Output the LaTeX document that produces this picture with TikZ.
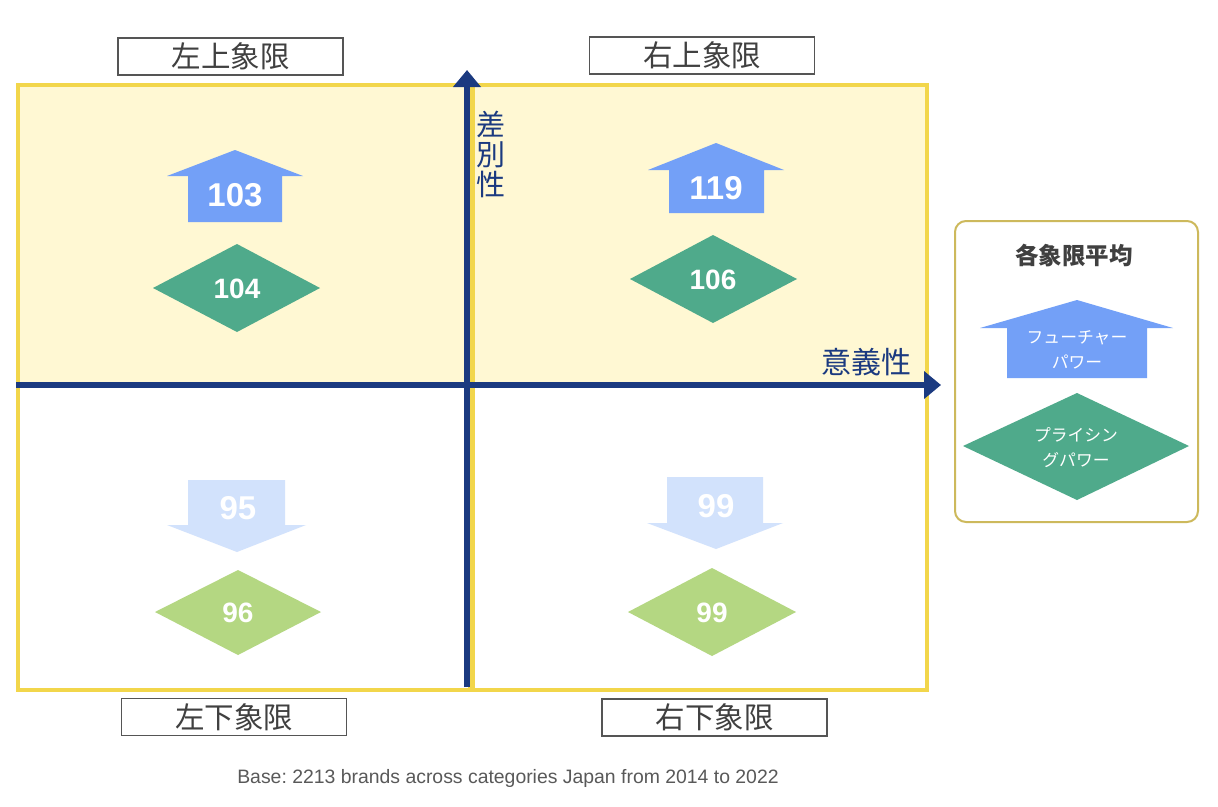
\documentclass[tikz,border=0pt]{standalone}
\usepackage{fontspec}
\setmainfont{Liberation Sans}
\newfontfamily\jp{Noto Sans CJK JP}
\usetikzlibrary{arrows.meta}
\frenchspacing
\definecolor{quadY}{HTML}{F2D64B}
\definecolor{quadFill}{HTML}{FFF8D3}
\definecolor{axisB}{HTML}{1B3A80}
\definecolor{upB}{HTML}{73A0F7}
\definecolor{dmG}{HTML}{4FAA8B}
\definecolor{lB}{HTML}{D2E2FC}
\definecolor{lG}{HTML}{B4D782}
\definecolor{legB}{HTML}{CDB95C}
\definecolor{lblTxt}{HTML}{404040}
\definecolor{lblLine}{HTML}{555555}
\definecolor{footTxt}{HTML}{595959}
\tikzset{
  quad/.style={draw=quadY, line width=4pt},
  axisline/.style={draw=axisB, line width=6pt, -{Triangle[width=27pt,length=17pt]}},
  lblbox/.style={draw=lblLine, line width=1.8pt, fill=white, minimum width=225pt, minimum height=37pt, inner sep=0pt, text=lblTxt, font=\jp\fontsize{29.5}{30}\selectfont},
  axislbl/.style={text=axisB, inner sep=0pt, font=\jp\fontsize{30}{30}\selectfont},
  bignum/.style={text=white, inner sep=0pt, font=\bfseries\fontsize{33}{36}\selectfont},
  dmnum/.style={text=white, inner sep=0pt, font=\bfseries\fontsize{28}{30}\selectfont},
  legtxt/.style={text=white, inner sep=0pt, align=center, font=\jp\fontsize{16.8}{25}\selectfont},
}
\begin{document}
\begin{tikzpicture}[x=1pt,y=-1pt]
\useasboundingbox (0,0) rectangle (1218,806);
\fill[white] (0,0) rectangle (1218,806);
% quadrants
\filldraw[quad, fill=quadFill] (18,85) rectangle (470,385);
\filldraw[quad, fill=quadFill] (473,85) rectangle (927,385);
\draw[quad] (18,385) rectangle (470,690);
\draw[quad] (473,385) rectangle (927,690);
% axes
\coordinate (vstart) at (467,687);
\coordinate (vend) at (467,70);
\coordinate (hstart) at (16,385);
\coordinate (hend) at (941,385);
\draw[axisline] (vstart) -- (vend);
\draw[axisline] (hstart) -- (hend);
\node[axislbl, align=center, font=\jp\fontsize{29}{30}\selectfont] (ylbl) at (491,154) {差\\別\\性};
\node[axislbl] (xlbl) at (866,362) {意義性};
% quadrant labels
\node[lblbox] (tl) at (230.5,56.5) {左上象限};
\node[lblbox] (tr) at (702,55.5) {右上象限};
\node[lblbox] (bl) at (234,717) {左下象限};
\node[lblbox] (br) at (714.5,717.5) {右下象限};
% TL
\fill[upB] (235,150) -- (303,176) -- (282,176) -- (282,222) -- (188,222) -- (188,176) -- (167,176) -- cycle;
\node[bignum] (n103) at (235,195.5) {103};
\fill[dmG] (237,244) -- (320,288) -- (237,332) -- (153,288) -- cycle;
\node[dmnum] (n104) at (237,289) {104};
% TR
\fill[upB] (716,143) -- (784,170) -- (764,170) -- (764,213) -- (669,213) -- (669,170) -- (648,170) -- cycle;
\node[bignum] (n119) at (716,188) {119};
\fill[dmG] (713,235) -- (797,279) -- (713,323) -- (630,279) -- cycle;
\node[dmnum] (n106) at (713,280) {106};
% BL
\fill[lB] (188,480) -- (285,480) -- (285,525) -- (306,525) -- (237,552) -- (167,525) -- (188,525) -- cycle;
\node[bignum] (n95) at (238,508) {95};
\fill[lG] (238,570) -- (321,612) -- (238,655) -- (155,612) -- cycle;
\node[dmnum] (n96) at (238,613) {96};
% BR
\fill[lB] (667,477) -- (763,477) -- (763,523) -- (783,523) -- (716,549) -- (647,523) -- (667,523) -- cycle;
\node[bignum] (n99a) at (716,506) {99};
\fill[lG] (712,568) -- (796,612) -- (712,656) -- (628,612) -- cycle;
\node[dmnum] (n99b) at (712,613) {99};
% legend
\draw[legB, line width=2pt, rounded corners=11pt, fill=white] (955,221) rectangle (1198,522);
\node[text=lblTxt, inner sep=0pt, font=\jp\bfseries\fontsize{23.5}{25}\selectfont] (legtitle) at (1074,255) {各象限平均};
\fill[upB] (1077,300) -- (1173,328) -- (1147,328) -- (1147,378) -- (1007,378) -- (1007,328) -- (980,328) -- cycle;
\node[legtxt] (legup) at (1077,350) {フューチャー\\パワー};
\fill[dmG] (1077,393) -- (1189,446) -- (1077,500) -- (963,446) -- cycle;
\node[legtxt] (legdm) at (1076,448) {プライシン\\グパワー};
% footer
\node[text=footTxt, inner sep=0pt, font=\fontsize{19.4}{21}\selectfont] (foot) at (508,778) {Base: 2213 brands across categories Japan from 2014 to 2022};
\end{tikzpicture}
\end{document}
